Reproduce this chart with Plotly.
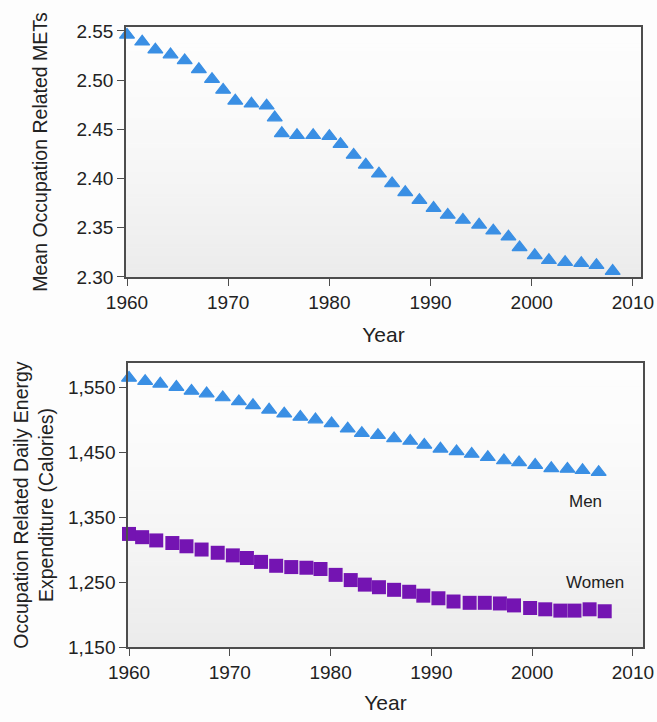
import plotly.graph_objects as go

# Mean occupation-related METs, all workers
met_years = [1960.0, 1961.5, 1962.8, 1964.3, 1965.7, 1967.1, 1968.4, 1969.5, 1970.7,
             1972.3, 1973.8, 1974.6, 1975.3, 1976.8, 1978.4, 1980.0, 1981.1, 1982.4,
             1983.6, 1984.9, 1986.2, 1987.5, 1988.9, 1990.3, 1991.7, 1993.2, 1994.8,
             1996.2, 1997.7, 1998.8, 2000.3, 2001.7, 2003.3, 2004.9, 2006.4, 2008.0]
met_values = [2.546, 2.539, 2.531, 2.526, 2.520, 2.511, 2.501, 2.490, 2.479,
              2.476, 2.474, 2.462, 2.446, 2.444, 2.444, 2.443, 2.435, 2.424,
              2.414, 2.405, 2.395, 2.386, 2.378, 2.370, 2.363, 2.358, 2.353,
              2.347, 2.341, 2.330, 2.322, 2.317, 2.315, 2.314, 2.312, 2.306]

# Occupation-related daily energy expenditure (Calories)
men_years = [1960.0, 1961.6, 1963.1, 1964.7, 1966.2, 1967.7, 1969.3, 1970.9, 1972.3,
             1973.9, 1975.4, 1977.0, 1978.5, 1980.1, 1981.7, 1983.1, 1984.7, 1986.3,
             1987.9, 1989.3, 1990.9, 1992.5, 1994.0, 1995.6, 1997.2, 1998.7, 2000.3,
             2001.9, 2003.5, 2005.0, 2006.6]
men_values = [1564, 1559, 1555, 1550, 1544, 1540, 1534, 1528, 1522,
              1515, 1509, 1504, 1500, 1494, 1486, 1479, 1476, 1471,
              1467, 1461, 1455, 1451, 1447, 1442, 1437, 1434, 1430,
              1425, 1424, 1422, 1419]

women_years = [1960.0, 1961.3, 1962.7, 1964.3, 1965.7, 1967.2, 1968.8, 1970.3, 1971.7,
               1973.1, 1974.6, 1976.1, 1977.6, 1979.0, 1980.5, 1982.0, 1983.4, 1984.8,
               1986.3, 1987.8, 1989.2, 1990.7, 1992.2, 1993.8, 1995.3, 1996.8, 1998.2,
               1999.8, 2001.3, 2002.8, 2004.2, 2005.7, 2007.2]
women_values = [1324, 1319, 1314, 1310, 1305, 1300, 1295, 1291, 1287,
                1281, 1275, 1273, 1272, 1270, 1261, 1253, 1246, 1242,
                1238, 1235, 1229, 1225, 1220, 1218, 1218, 1217, 1214,
                1210, 1208, 1206, 1206, 1208, 1205]

year_ticks = [1960, 1970, 1980, 1990, 2000, 2010]
met_ticks = [2.30, 2.35, 2.40, 2.45, 2.50, 2.55]
cal_ticks = [1150, 1250, 1350, 1450, 1550]

BLUE = "#3a8fe4"
PURPLE = "#7414b2"
AXIS = "#4d4d4d"
TEXT = "#222222"
FONT = "Liberation Sans, Arial, Helvetica, sans-serif"

fig = go.Figure()

fig.add_trace(go.Scatter(
    x=met_years, y=met_values, mode="markers", xaxis="x", yaxis="y",
    marker=dict(symbol="triangle-up", size=13, color=BLUE,
                line=dict(color=BLUE, width=1.2)),
    cliponaxis=False, showlegend=False))

fig.add_trace(go.Scatter(
    x=men_years, y=men_values, mode="markers", xaxis="x2", yaxis="y2",
    marker=dict(symbol="triangle-up", size=13, color=BLUE,
                line=dict(color=BLUE, width=1.2)),
    cliponaxis=False, showlegend=False))

fig.add_trace(go.Scatter(
    x=women_years, y=women_values, mode="markers", xaxis="x2", yaxis="y2",
    marker=dict(symbol="square", size=14, color=PURPLE,
                line=dict(color=PURPLE, width=0)),
    cliponaxis=False, showlegend=False))

# soft vertical gradient behind each panel
shapes = []
bands = 60
for xr, yr in (("x domain", "y domain"), ("x2 domain", "y2 domain")):
    for i in range(bands):
        t = (i + 0.5) / bands          # 0 at top, 1 at bottom
        c = int(round(253 - 18 * t ** 1.6))
        shapes.append(dict(
            type="rect", xref=xr, yref=yr, layer="below",
            x0=0, x1=1, y0=1 - (i + 1) / bands, y1=1 - i / bands + 0.002,
            line=dict(width=0), fillcolor=f"rgb({c},{c},{c})"))

common_x = dict(
    tickvals=year_ticks, ticks="outside", ticklen=7, tickwidth=1.3,
    tickcolor=AXIS, showline=True, linecolor=AXIS, linewidth=1.5, mirror=True,
    showgrid=False, zeroline=False,
    tickfont=dict(size=19, color=TEXT, family=FONT),
)
common_y = dict(
    ticks="outside", ticklen=7, tickwidth=1.3, tickcolor=AXIS,
    showline=True, linecolor=AXIS, linewidth=1.5, mirror=True,
    showgrid=False, zeroline=False,
    tickfont=dict(size=19, color=TEXT, family=FONT),
)

fig.update_layout(
    width=657, height=722,
    margin=dict(l=126, r=14, t=27, b=75, autoexpand=False),
    paper_bgcolor="#fdfdfd", plot_bgcolor="#fbfbfb",
    font=dict(family=FONT, color=TEXT),
    shapes=shapes,
    xaxis=dict(common_x, domain=[0, 0.9961], range=[1959.9, 2010.8], anchor="y",
               title=dict(text="Year", font=dict(size=21), standoff=16)),
    yaxis=dict(common_y, domain=[0.5968, 1.0], range=[2.30, 2.554], anchor="x",
               tickvals=met_ticks, tickformat=".2f",
               title=dict(text="Mean Occupation Related METs",
                          font=dict(size=19.5), standoff=24)),
    xaxis2=dict(common_x, domain=[0.0039, 1.0], range=[1959.9, 2011], anchor="y2",
                title=dict(text="Year", font=dict(size=21), standoff=14)),
    yaxis2=dict(common_y, domain=[0.0, 0.458], range=[1150, 1587], anchor="x2",
                tickvals=cal_ticks, tickformat=",d",
                title=dict(text="Occupation Related Daily Energy<br>Expenditure (Calories)",
                           font=dict(size=19.5), standoff=9)),
    annotations=[
        dict(x=2005.3, y=1374, xref="x2", yref="y2", text="Men", showarrow=False,
             font=dict(size=17, color=TEXT)),
        dict(x=2006.2, y=1249, xref="x2", yref="y2", text="Women", showarrow=False,
             font=dict(size=17, color=TEXT)),
    ],
)

fig.write_html("out.html")
